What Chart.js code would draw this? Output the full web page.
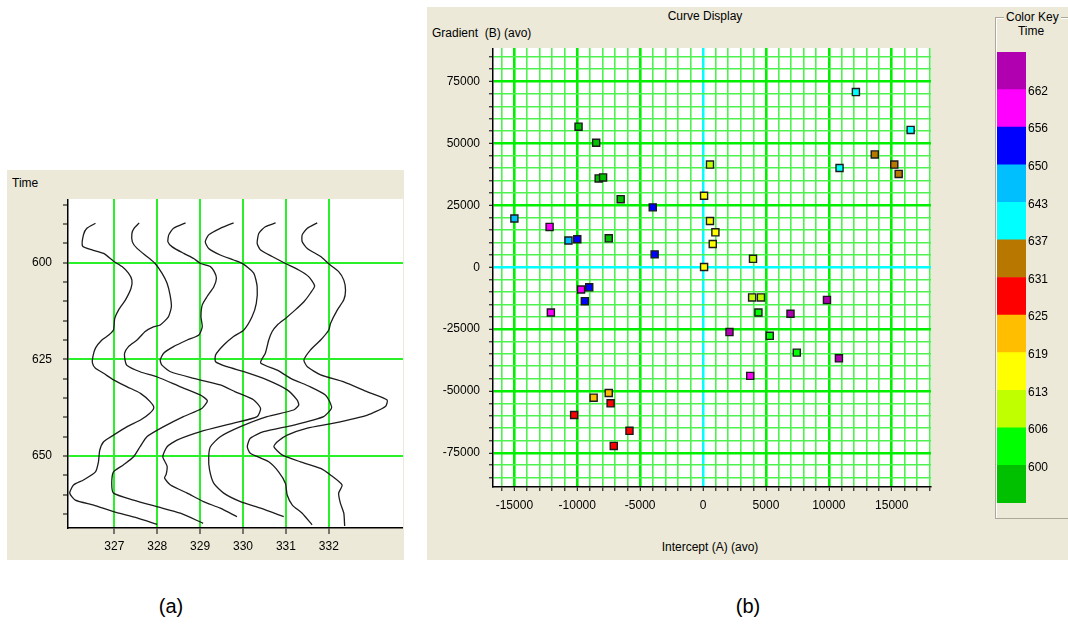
<!DOCTYPE html>
<html>
<head>
<meta charset="utf-8">
<script src="https://cdn.jsdelivr.net/npm/chart.js@4.4.1/dist/chart.umd.min.js"></script>
<style>
  html, body { margin: 0; padding: 0; background: #fff; }
  body { position: relative; width: 1068px; height: 627px; overflow: hidden;
         font-family: "Liberation Sans", Arial, sans-serif; color: #000; }
  .panel { position: absolute; background: #ece9d8; }
  .txt { position: absolute; font-size: 12px; line-height: 14px; white-space: nowrap; color: #000; }
  .mid { transform: translateX(-50%); }
  .cap { position: absolute; font-size: 20px; line-height: 24px; transform: translateX(-50%); }
  canvas { position: absolute; }
  #keybox { position: absolute; left: 995px; top: 17px; width: 100px; height: 500px;
            border: 1px solid #aca899; box-shadow: inset 1px 1px 0 #fff; }
</style>
</head>
<body>
<div class="panel" style="left:7px;top:170px;width:397px;height:390px"></div>
<div class="panel" style="left:427px;top:7px;width:641px;height:553px"></div>

<div class="txt" style="left:12px;top:176px">Time</div>
<div class="txt mid" style="left:705px;top:9px">Curve Display</div>
<div class="txt" style="left:432px;top:26px">Gradient&nbsp; (B) (avo)</div>
<div class="txt mid" style="left:710px;top:540px">Intercept (A) (avo)</div>

<div id="keybox"></div>
<div class="txt" style="left:1004px;top:10px;background:#ece9d8;padding:0 2px">Color Key</div>
<div class="txt mid" style="left:1031px;top:24px">Time</div>

<div class="cap" style="left:171px;top:594px">(a)</div>
<div class="cap" style="left:748px;top:594px">(b)</div>

<canvas id="wiggle" width="375" height="364" style="left:28px;top:199px;width:375px;height:364px"></canvas>
<canvas id="cross" width="500" height="469" style="left:433px;top:48px;width:500px;height:469px"></canvas>
<canvas id="key" width="69" height="451" style="left:997px;top:52px;width:69px;height:451px"></canvas>

<script>
// ---- (a) wiggle traces: [time, amplitude] samples, amplitude in CDP units ----
const traceCdp = [327, 328, 329, 330, 331, 332];
const trace327 = [[589.8,-0.44],[591.1,-0.64],[592.8,-0.72],[595.7,-0.74],[596.7,-0.52],[597.6,-0.25],[599.6,-0.02],[601.0,0.18],[602.7,0.33],[604.5,0.41],[606.6,0.39],[609.6,0.26],[612.2,0.10],[614.4,0.01],[617.4,-0.02],[618.7,-0.13],[620.0,-0.29],[622.1,-0.44],[624.3,-0.50],[626.0,-0.51],[627.3,-0.44],[628.6,-0.25],[630.3,-0.02],[632.1,0.30],[633.8,0.61],[636.0,0.84],[637.5,0.92],[639.0,0.82],[640.7,0.61],[642.4,0.30],[644.6,-0.02],[646.3,-0.25],[648.5,-0.34],[651.5,-0.37],[654.1,-0.44],[656.2,-0.72],[657.5,-0.95],[659.6,-1.04],[661.4,-0.91],[662.7,-0.48],[664.4,-0.02],[666.0,0.53],[667.7,1.00]];
const trace328 = [[589.7,-0.42],[591.1,-0.54],[592.4,-0.59],[594.6,-0.58],[596.3,-0.47],[598.4,-0.24],[600.2,-0.05],[602.7,0.11],[605.3,0.23],[608.4,0.30],[611.4,0.33],[614.0,0.26],[616.1,0.07],[616.6,-0.09],[617.8,-0.28],[620.0,-0.47],[621.7,-0.67],[623.4,-0.76],[625.2,-0.75],[626.5,-0.71],[628.2,-0.40],[629.5,-0.01],[632.1,0.54],[634.2,1.00],[635.7,1.17],[637.7,1.04],[639.8,0.61],[642.4,0.15],[645.0,-0.24],[647.6,-0.40],[650.2,-0.55],[652.3,-0.79],[654.1,-1.02],[657.1,-1.06],[659.6,-1.02],[661.4,-0.55],[663.1,-0.01],[664.8,0.54],[667.4,1.07]];
const trace329 = [[589.7,-0.34],[591.1,-0.62],[592.8,-0.73],[594.6,-0.75],[595.9,-0.65],[597.6,-0.38],[598.9,-0.15],[600.2,0.01],[601.0,0.24],[602.3,0.33],[604.0,0.38],[606.2,0.32],[608.8,0.16],[610.9,0.05],[614.0,0.02],[616.6,0.05],[618.7,-0.03],[620.0,-0.30],[621.7,-0.62],[623.4,-0.85],[625.2,-0.93],[626.5,-0.89],[628.2,-0.69],[629.9,-0.15],[631.6,0.47],[633.4,0.82],[635.5,1.25],[637.7,1.41],[639.8,1.33],[641.5,0.78],[643.7,0.01],[645.9,-0.54],[647.6,-0.77],[650.2,-0.87],[652.6,-0.77],[654.7,-0.79],[655.7,-0.83],[657.5,-0.69],[659.6,-0.30],[661.8,0.08],[663.5,0.47],[665.7,0.86]];
const trace330 = [[589.7,-0.22],[591.1,-0.53],[592.8,-0.80],[594.6,-0.88],[596.3,-0.80],[598.0,-0.53],[599.3,-0.22],[600.3,0.00],[602.7,0.25],[606.2,0.33],[610.5,0.31],[614.0,0.21],[617.4,0.02],[619.1,-0.22],[621.3,-0.45],[623.9,-0.64],[625.6,-0.64],[626.9,-0.37],[628.2,0.02],[630.3,0.56],[632.9,1.03],[635.5,1.26],[636.8,1.30],[638.1,1.18],[639.8,0.56],[642.4,-0.06],[645.0,-0.53],[647.6,-0.76],[650.2,-0.80],[653.6,-0.78],[657.1,-0.68],[659.6,-0.45],[661.8,-0.06],[663.5,0.41],[665.7,0.95]];
const trace331 = [[589.7,-0.24],[590.7,-0.48],[592.4,-0.63],[595.0,-0.67],[596.7,-0.59],[598.4,-0.32],[600.2,-0.01],[601.9,0.30],[603.6,0.53],[606.0,0.67],[607.9,0.57],[610.1,0.42],[612.2,0.22],[614.4,-0.01],[616.1,-0.20],[617.8,-0.32],[620.0,-0.40],[623.4,-0.48],[625.9,-0.59],[627.8,-0.20],[629.9,0.11],[632.1,0.57],[634.2,0.92],[636.4,1.04],[637.7,1.06],[639.8,0.88],[642.0,0.18],[643.7,-0.52],[645.4,-0.83],[647.6,-0.90],[649.3,-0.83],[651.5,-0.40],[654.1,-0.17],[657.1,-0.01],[660.1,0.03],[662.7,0.15],[664.8,0.38],[667.8,0.61]];
const trace332 = [[589.7,-0.27],[591.1,-0.50],[592.8,-0.62],[594.6,-0.62],[596.3,-0.50],[598.4,-0.19],[600.3,0.00],[602.3,0.23],[604.5,0.35],[607.1,0.39],[609.6,0.35],[612.2,0.20],[615.7,0.04],[617.4,0.00],[620.0,-0.19],[622.6,-0.43],[625.2,-0.58],[626.9,-0.50],[629.0,-0.19],[630.8,0.35],[633.4,0.90],[635.5,1.36],[637.2,1.32],[639.4,0.90],[641.5,0.12],[642.8,-0.50],[644.6,-0.97],[646.3,-1.20],[647.6,-1.28],[649.7,-1.09],[651.5,-0.66],[653.2,-0.19],[654.9,0.04],[657.5,0.31],[659.6,0.23],[662.2,0.27],[664.8,0.35],[668.1,0.37]];
const traces = [trace327, trace328, trace329, trace330, trace331, trace332];

const timeLabels = [600, 625, 650];
const timeMinorStep = 5;
const timeMinorFirst = 585;
const timeMinorLast = 665;

// ---- (b) crossplot: intercept, gradient, time per sample ----
const interceptA = [-15000,-12200,-10700,-10000,-9900,-8500,-8300,-7950,-6550,-4000,-7500,-3850,550,80,550,980,770,80,3970,12150,16500,10850,13650,15200,15550,
                    -9700,-9050,-9400,-12100,3900,4600,4400,9850,6950,2100,5300,7450,10800,3750,-7500,-8700,-7350,-10250,-5850,-7100];
const gradientB  = [19700,16300,10800,11300,56800,50300,35900,36300,27500,24200,11700,5200,41500,28900,18700,14100,9400,100,3400,70800,55500,40100,45600,41500,37700,
                    -9000,-8100,-13700,-18300,-12200,-12200,-18300,-13200,-18800,-26200,-27700,-34500,-36800,-43900,-50800,-52700,-55000,-59700,-66100,-72200];
const sampleTime = [646,659,646,653,597,597,597,597,597,653,597,653,609,616,616,616,616,616,609,640,640,640,634,634,634,
                    659,653,653,659,609,609,603,665,665,665,603,603,665,659,622,622,628,628,628,628];

const interceptLabels = [-15000,-10000,-5000,0,5000,10000,15000];
const gradientLabels  = [75000,50000,25000,0,-25000,-50000,-75000];
const interceptMinorStep = 1000;
const gradientMinorStep = 5000;

// ---- colour key (bottom to top) ----
const keyColors = ['#00c000','#00ff00','#c0ff00','#ffff00','#ffbf00','#ff0000','#b87800','#00ffff','#00bfff','#0000ff','#ff00ff','#b000b0'];
const keyLabels = ['600','606','613','619','625','631','637','643','650','656','662'];

function colorForTime(t) {
  let i = 0;
  while (i < keyLabels.length && t >= Number(keyLabels[i])) i++;
  return keyColors[i];
}

function range(a, b, step) {
  const out = [];
  for (let v = a; v <= b + 1e-9; v += step) out.push(Math.round(v * 1000) / 1000);
  return out;
}

Chart.defaults.font.family = '"Liberation Sans", Arial, sans-serif';
Chart.defaults.font.size = 12;
Chart.defaults.color = '#000';

// white plotting area behind the grid
const areaFill = {
  id: 'areaFill',
  beforeDraw(chart, args, opts) {
    const { ctx, chartArea: a } = chart;
    ctx.save();
    ctx.fillStyle = opts.color || '#fff';
    ctx.fillRect(a.left, a.top, a.right - a.left, a.bottom - a.top);
    ctx.restore();
  }
};

const common = {
  responsive: false,
  animation: false,
  devicePixelRatio: 1,
  events: [],
  plugins: { legend: { display: false }, tooltip: { enabled: false }, title: { display: false } }
};

// ---------- (a) ----------
new Chart(document.getElementById('wiggle'), {
  type: 'scatter',
  data: {
    datasets: traces.map((tr, i) => ({
      data: tr.map(([t, amp]) => ({ x: traceCdp[i] + amp, y: t })),
      showLine: true,
      borderColor: '#1c1c1c',
      borderWidth: 1.3,
      pointRadius: 0,
      tension: 0.2,
      fill: false
    }))
  },
  options: {
    ...common,
    layout: { padding: 0, autoPadding: false },
    plugins: { ...common.plugins, areaFill: { color: '#ffffff' } },
    scales: {
      x: {
        type: 'linear', min: 325.92, max: 333.73,
        afterBuildTicks: s => { s.ticks = traceCdp.map(v => ({ value: v })); },
        afterFit: s => { s.height = 35; s.paddingLeft = 0; s.paddingRight = 0; },
        grid: { color: '#2af02a', lineWidth: 2, tickColor: '#000', tickLength: 6, tickWidth: 1 },
        border: { color: '#000', width: 1.5 },
        ticks: { autoSkip: false, maxRotation: 0, padding: 5, callback: v => String(v) }
      },
      y: {
        type: 'linear', reverse: true, min: 583.52, max: 668.62,
        afterBuildTicks: s => { s.ticks = range(timeMinorFirst, timeMinorLast, timeMinorStep).map(v => ({ value: v })); },
        afterFit: s => { s.width = 40; s.paddingTop = 0; s.paddingBottom = 0; },
        grid: {
          color: c => (c.tick && timeLabels.includes(c.tick.value)) ? '#2af02a' : 'rgba(0,0,0,0)',
          lineWidth: 2, tickColor: '#000', tickLength: 5, tickWidth: 1
        },
        border: { color: '#000', width: 1.5 },
        ticks: { autoSkip: false, padding: 11, callback: v => timeLabels.includes(v) ? String(v) : '' }
      }
    }
  },
  plugins: [areaFill]
});

// ---------- (b) ----------
const majorGreen = '#00f000';
const minorGreen = '#4ef24e';
const zeroCyan = '#00ffff';

function gridColor(labels) {
  return c => {
    const v = c.tick ? c.tick.value : NaN;
    if (v === 0) return zeroCyan;
    return labels.includes(v) ? majorGreen : minorGreen;
  };
}
function gridWidth(labels) {
  return c => {
    const v = c.tick ? c.tick.value : NaN;
    if (v === 0) return 2.5;
    return labels.includes(v) ? 2.6 : 1.6;
  };
}

new Chart(document.getElementById('cross'), {
  type: 'scatter',
  data: {
    datasets: [{
      data: interceptA.map((a, i) => ({ x: a, y: gradientB[i] })),
      backgroundColor: sampleTime.map(colorForTime),
      borderColor: '#1a1a1a',
      borderWidth: 1.4,
      pointStyle: 'rect',
      pointRadius: 5,
      pointHoverRadius: 5
    }]
  },
  options: {
    ...common,
    layout: { padding: { right: 2 }, autoPadding: false },
    plugins: { ...common.plugins, areaFill: { color: '#ffffff' } },
    scales: {
      x: {
        type: 'linear', min: -16700, max: 18120,
        afterBuildTicks: s => { s.ticks = range(-16000, 18000, interceptMinorStep).map(v => ({ value: v })); },
        afterFit: s => { s.height = 30; s.paddingLeft = 0; s.paddingRight = 0; },
        grid: { color: gridColor(interceptLabels), lineWidth: gridWidth(interceptLabels), tickColor: '#000', tickLength: 4, tickWidth: 1 },
        border: { color: '#000', width: 1.5 },
        ticks: { autoSkip: false, maxRotation: 0, padding: 7, callback: v => interceptLabels.includes(v) ? String(v) : '' }
      },
      y: {
        type: 'linear', min: -88800, max: 88600,
        afterBuildTicks: s => { s.ticks = range(-85000, 85000, gradientMinorStep).map(v => ({ value: v })); },
        afterFit: s => { s.width = 60; s.paddingTop = 0; s.paddingBottom = 0; },
        grid: { color: gridColor(gradientLabels), lineWidth: gridWidth(gradientLabels), tickColor: '#000', tickLength: 4, tickWidth: 1 },
        border: { color: '#000', width: 1.5 },
        ticks: { autoSkip: false, padding: 9, callback: v => gradientLabels.includes(v) ? String(v) : '' }
      }
    }
  },
  plugins: [areaFill]
});

// ---------- colour key ----------
new Chart(document.getElementById('key'), {
  type: 'bar',
  data: {
    labels: [''],
    datasets: keyColors.map(c => ({
      data: [1], backgroundColor: c, borderWidth: 0, barPercentage: 1, categoryPercentage: 1
    }))
  },
  options: {
    ...common,
    layout: { padding: 0, autoPadding: false },
    scales: {
      x: { display: false, stacked: true },
      y: {
        stacked: true, position: 'right', min: 0, max: keyColors.length,
        afterBuildTicks: s => { s.ticks = keyLabels.map((_, i) => ({ value: i + 1 })); },
        afterFit: s => { s.width = 40; s.paddingTop = 0; s.paddingBottom = 0; },
        grid: { display: false, drawTicks: false },
        border: { display: false },
        ticks: { autoSkip: false, padding: 2, labelOffset: 2, callback: v => keyLabels[v - 1] }
      }
    }
  }
});
</script>
</body>
</html>
